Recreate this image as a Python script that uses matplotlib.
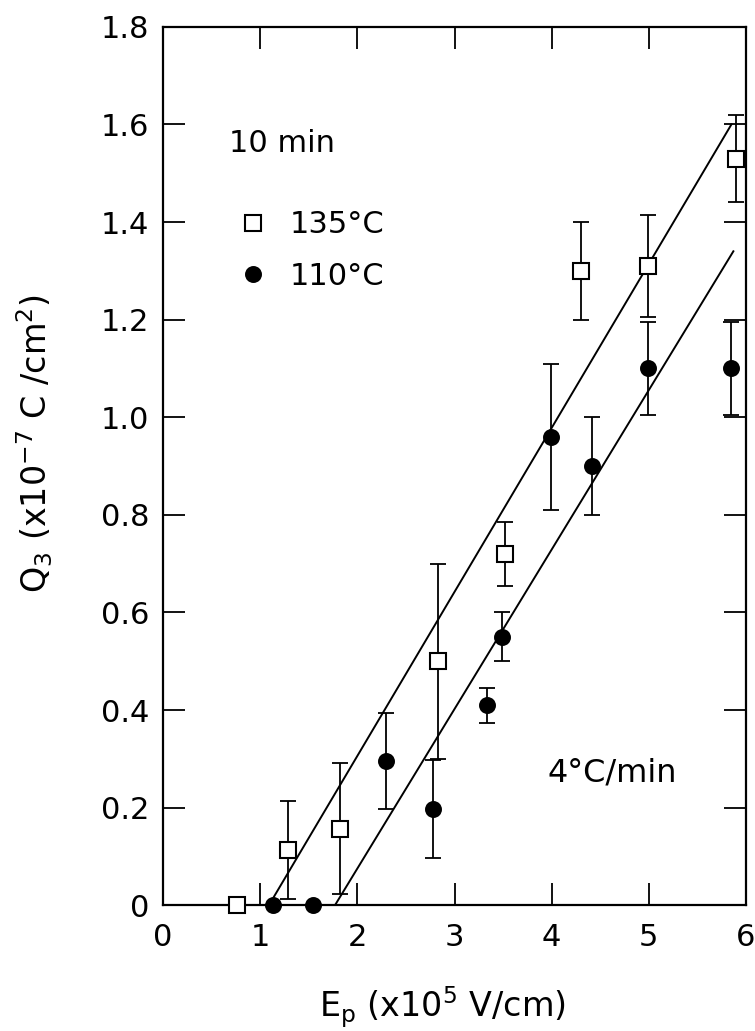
import numpy as np
import matplotlib
matplotlib.use("Agg")
import matplotlib.pyplot as plt
from matplotlib.lines import Line2D

plt.rcParams['font.family'] = ['DejaVu Sans']
plt.rcParams['mathtext.default'] = 'regular'

# 135 C, open squares
ep_135 = [0.76, 1.29, 1.82, 2.83, 3.52, 4.30, 4.99, 5.90]
q3_135 = [0.0, 0.113, 0.157, 0.50, 0.72, 1.30, 1.31, 1.53]
err_135 = [0.0, 0.10, 0.135, 0.20, 0.065, 0.10, 0.105, 0.09]

# 110 C, filled circles
ep_110 = [1.13, 1.54, 2.29, 2.78, 3.33, 3.49, 3.99, 4.42, 4.99, 5.85]
q3_110 = [0.0, 0.0, 0.295, 0.197, 0.41, 0.55, 0.96, 0.90, 1.10, 1.10]
err_110 = [0.0, 0.0, 0.098, 0.10, 0.036, 0.05, 0.15, 0.10, 0.096, 0.095]

# straight lines drawn through each set
fit_x_135 = [1.09, 5.85]
fit_y_135 = [0.0, 1.60]
fit_x_110 = [1.77, 5.87]
fit_y_110 = [0.0, 1.34]

xticks = [0, 1, 2, 3, 4, 5, 6]
yticks = [0, 0.2, 0.4, 0.6, 0.8, 1.0, 1.2, 1.4, 1.6, 1.8]
ytick_labels = ['0', '0.2', '0.4', '0.6', '0.8', '1.0', '1.2', '1.4', '1.6', '1.8']

fs = 22      # tick labels, legend
fs_lab = 24  # axis titles

fig = plt.figure(figsize=(7.55, 10.31), dpi=100)
ax = fig.add_axes([163 / 755, 0.122, 583 / 755, 0.852])

ax.plot(fit_x_135, fit_y_135, color='black', lw=1.4, zorder=2)
ax.plot(fit_x_110, fit_y_110, color='black', lw=1.4, zorder=2)

x1, y1, e1 = np.array(ep_135), np.array(q3_135), np.array(err_135)
x2, y2, e2 = np.array(ep_110), np.array(q3_110), np.array(err_110)

m1 = e1 > 0
m2 = e2 > 0
ax.errorbar(x1[m1], y1[m1], yerr=e1[m1], fmt='none', ecolor='black',
            elinewidth=1.3, capsize=6, capthick=1.3, zorder=3)
ax.errorbar(x2[m2], y2[m2], yerr=e2[m2], fmt='none', ecolor='black',
            elinewidth=1.3, capsize=6, capthick=1.3, zorder=3)

sq_style = dict(ls='none', marker='s', ms=12, mfc='white', mec='black', mew=1.5)
ci_style = dict(ls='none', marker='o', ms=11, mfc='black', mec='black', mew=1.2)
ax.plot(x1, y1, clip_on=False, zorder=5, **sq_style)
ax.plot(x2, y2, clip_on=False, zorder=5, **ci_style)

ax.set_xlim(0, 6)
ax.set_ylim(0, 1.8)
ax.set_xticks(xticks)
ax.set_xticklabels([str(t) for t in xticks])
ax.set_yticks(yticks)
ax.set_yticklabels(ytick_labels)

ax.tick_params(direction='in', length=16, width=1.3, top=True, right=True,
               labelsize=fs)
ax.tick_params(axis='y', pad=10)
ax.tick_params(axis='x', pad=13)
for s in ax.spines.values():
    s.set_linewidth(1.6)

ax.set_xlabel('E$_p$ (x10$^5$ V/cm)', fontsize=fs_lab)
ax.xaxis.set_label_coords(0.48, -0.09)
ax.set_ylabel('Q$_3$ (x10$^{-7}$ C /cm$^2$)', fontsize=fs_lab)
ax.yaxis.set_label_coords(-0.185, 0.526)

ax.text(0.68, 1.56, '10 min', fontsize=fs, ha='left', va='center')
ax.text(3.96, 0.27, '4°C/min', fontsize=23, ha='left', va='center')

handles = [Line2D([], [], **sq_style), Line2D([], [], **ci_style)]
ax.legend(handles, ['135°C', '110°C'], loc='upper left',
          bbox_to_anchor=(0.128, 0.791), frameon=False, fontsize=fs,
          borderpad=0, borderaxespad=0, handlelength=1.0,
          handletextpad=0.7, labelspacing=0.74)

fig.savefig('out.png', dpi=100)
